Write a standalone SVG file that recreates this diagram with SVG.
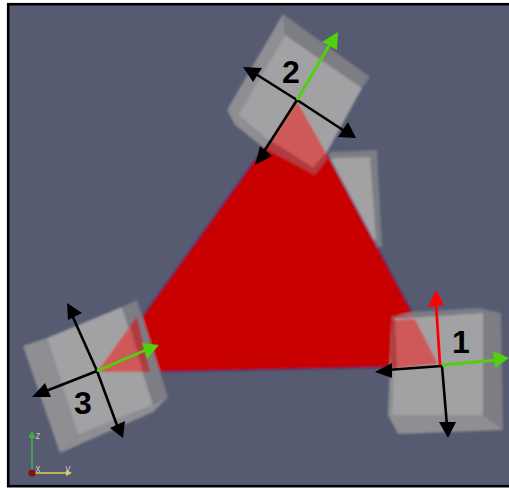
<svg xmlns="http://www.w3.org/2000/svg" width="509" height="488" viewBox="0 0 509 488">
<defs>
<filter id="blur" x="-5%" y="-5%" width="110%" height="110%"><feGaussianBlur stdDeviation="0.8"/></filter>
<filter id="soft" x="-20%" y="-20%" width="140%" height="140%"><feGaussianBlur stdDeviation="0.35"/></filter>
<style>
.b{stroke:#000;stroke-width:2.6;fill:none}
.g{stroke:#4fd10a;stroke-width:2.8;fill:none}
.r{stroke:#f00;stroke-width:2.8;fill:none}
.n{font-family:"Liberation Sans",Arial,sans-serif;font-weight:bold;font-size:32px;fill:#000;text-anchor:middle}
.a{font-family:"Liberation Sans",Arial,sans-serif;font-size:10px;fill:#c4c4c4;text-anchor:middle}
.front{fill:#a2a2a5}.left{fill:#8f8f93}.side{fill:#7d7d84}.fade{fill:#cf5858}.deep{fill:#b03a40}
</style>
</defs>
<rect width="509" height="488" fill="#fff"/>
<rect x="8.2" y="4.2" width="520" height="482" fill="#565b71" stroke="#000" stroke-width="2.6"/>
<g id="scene" filter="url(#blur)">
<g id="cube-back"><path class="side" d="M330 152 377 150 382 247 360 247 326 160Z"/><path class="front" d="M336 158 370 157 376 240 350 240 325 160Z"/></g>
<g id="triangle"><path d="M298 100 441 366 102 373Z" fill="#c80000" stroke="#3a2a70" stroke-width="1"/></g>
<g id="cube-2">
<path class="side" d="M283 14 370 77 362 88 285 35Z"/>
<path class="left" d="M283 14 285 35 238 115 227 110Z"/>
<path class="front" d="M285 35 362 88 326 154 315 160 270 142 238 115Z"/>
<path class="left" d="M227 110 238 115 270 142 264 148 235 125Z"/>
<path class="fade" d="M297 101 326 153 313 168 271 141Z"/>
<path class="deep" d="M271 141 313 168 326 153 328 158 315 175 264 148Z"/>
</g>
<g id="cube-1">
<path class="side" d="M392 317 413 312 480 308 501 313 503 430 483 415V313Z"/>
<path class="front" d="M395 318 483 313V415H392Z"/>
<path class="left" d="M388 415H483L503 430 398 434Z"/>
<path class="left" d="M392 317 395 318 392 415H388Z"/>
<path class="fade" d="M395 320 415 319 438 364 397 368Z"/>
<path class="deep" d="M392 318 395 319 397 369 391 369Z"/>
</g>
<g id="cube-3">
<path class="left" d="M23 346 47 338 78 435 60 453Z"/>
<path class="side" d="M122 307 137 300 168 397 153 405Z"/>
<path class="front" d="M47 338 122 307 153 405 78 435Z"/>
<path class="left" d="M78 435 153 405 168 397 153 412 60 453Z"/>
<path class="fade" d="M97 372 130 326 143 372Z"/>
<path class="deep" d="M130 326 137 316 150 372H143Z"/>
</g>
</g>
<g id="connectors" filter="url(#soft)">
<g class="b">
<path d="M297 100 251 71M297 100 346 132M297 100 263 153"/>
<path d="M442 366 387 370M442 366 447 426"/>
<path d="M97 371 72 315M97 371 118 428M97 371 46 391"/>
</g>
<path class="g" d="M297 100 330 44M442 365 497 360M97 371 148 349"/>
<path class="r" d="M440 365 436 303"/>
<g fill="#000">
<path d="M243 67 262 68 253 82Z"/><path d="M356 138 338 137 348 122Z"/><path d="M255 165 260 146 272 156Z"/>
<path d="M375 372 392 363 392 378Z"/><path d="M448 438 439 422 456 422Z"/>
<path d="M67 303 82 313 68 320Z"/><path d="M123 438 110 428 125 421Z"/><path d="M32 397 45 383 51 397Z"/>
</g>
<g fill="#4fd10a"><path d="M338 32 337 50 322 42Z"/><path d="M509 358 495 368 493 351Z"/><path d="M159 345 147 359 142 343Z"/></g>
<path d="M436 290 444 305 428 307Z" fill="#f00"/>
</g>
<g id="labels">
<text class="n" x="291" y="83">2</text>
<text class="n" x="461" y="353">1</text>
<text class="n" x="83" y="414">3</text>
</g>
<g id="axes" filter="url(#soft)">
<path d="M32 473V437" stroke="#3cb43c" stroke-width="1.5" fill="none"/><path d="M32 473H68" stroke="#d8d050" stroke-width="1.5" fill="none"/>
<path d="M32 431 35.500 438H28.500Z" fill="#3cb43c"/><path d="M72 473 66 470V476Z" fill="#d8d050"/>
<circle cx="32" cy="473" r="3.500" fill="#8a0a14"/>
<text class="a" x="38" y="439">z</text><text class="a" x="38" y="472">x</text><text class="a" x="68" y="472">y</text>
</g>
</svg>
